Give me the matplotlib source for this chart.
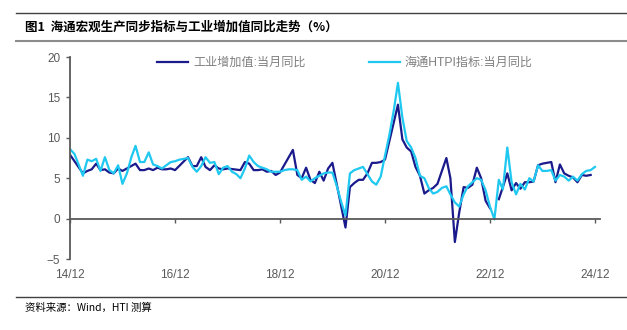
import numpy as np
import pandas as pd
import matplotlib
matplotlib.use('Agg')
import matplotlib.pyplot as plt
import matplotlib.dates as mdates
from matplotlib.lines import Line2D

plt.rcParams['font.family'] = ['Liberation Sans', 'Noto Sans CJK SC', 'DejaVu Sans']

# monthly, 2014-12 .. 2024-12
months = pd.date_range('2014-12-01', periods=121, freq='MS')

nan = np.nan
# 工业增加值:当月同比 (Jan/Feb often not published)
iva_yoy = [
    7.9,
    nan, nan, 5.6, 5.9, 6.1, 6.8, 6.0, 6.1, 5.7, 5.6, 6.2, 5.9,      # 2015
    nan, nan, 6.8, 6.0, 6.0, 6.2, 6.0, 6.3, 6.1, 6.1, 6.2, 6.0,      # 2016
    nan, nan, 7.6, 6.5, 6.5, 7.6, 6.4, 6.0, 6.6, 6.2, 6.1, 6.2,      # 2017
    nan, nan, 6.0, 7.0, 6.8, 6.0, 6.0, 6.1, 5.8, 5.9, 5.4, 5.7,      # 2018
    nan, nan, 8.5, 5.4, 5.0, 6.3, 4.8, 4.4, 5.8, 4.7, 6.2, 6.9,      # 2019
    nan, nan, -1.1, 3.9, 4.4, 4.8, 4.8, 5.6, 6.9, 6.9, 7.0, 7.3,     # 2020
    nan, nan, 14.1, 9.8, 8.8, 8.3, 6.4, 5.3, 3.1, 3.5, 3.8, 4.3,     # 2021
    nan, 7.5, 5.0, -2.9, 0.7, 3.9, 3.8, 4.2, 6.3, 5.0, 2.2, 1.3,     # 2022
    nan, 2.4, 3.9, 5.6, 3.5, 4.4, 3.7, 4.5, 4.5, 4.6, 6.6, 6.8,      # 2023
    nan, 7.0, 4.5, 6.7, 5.6, 5.3, 5.1, 4.5, 5.4, 5.3, 5.4, nan,      # 2024
]

# 海通HTPI指标:当月同比
htpi_yoy = [
    8.6,
    8.0, 6.6, 5.3, 7.3, 7.1, 7.4, 5.9, 7.6, 6.0, 5.6, 6.6, 4.3,      # 2015
    5.6, 7.6, 9.0, 7.0, 7.0, 8.2, 6.7, 6.5, 6.2, 6.6, 7.0, 7.1,      # 2016
    7.3, 7.4, 7.5, 6.4, 5.8, 6.5, 7.6, 6.9, 7.0, 5.5, 6.3, 6.5,      # 2017
    5.8, 5.5, 5.0, 6.2, 7.8, 7.0, 6.5, 6.3, 6.1, 5.8, 5.8, 5.8,      # 2018
    6.0, 6.1, 6.1, 6.0, 4.8, 5.2, 4.6, 5.0, 5.3, 5.6, 5.7, 5.7,      # 2019
    4.0, 2.0, 0.4, 5.6, 6.0, 6.2, 6.4, 5.5, 4.6, 4.2, 5.2, 7.8,      # 2020
    10.4, 13.5, 16.8, 12.5, 9.6, 8.8, 7.5, 5.3, 5.0, 3.8, 3.1, 3.3,  # 2021
    3.8, 4.0, 3.0, 2.0, 1.5, 3.0, 4.0, 4.5, 5.0, 4.8, 3.5, 1.5,      # 2022
    -0.1, 4.8, 3.6, 8.8, 4.5, 3.0, 4.3, 3.6, 5.0, 4.6, 6.6, 5.9,     # 2023
    5.9, 6.0, 4.7, 5.4, 5.2, 4.7, 5.2, 4.7, 5.5, 5.9, 6.0, 6.4,      # 2024
]

iva = pd.Series(iva_yoy, index=months)
htpi = pd.Series(htpi_yoy, index=months)

NAVY = '#1a1a8c'
CYAN = '#1ec8f0'
AXIS = '#595959'
TEXT = '#595959'

fig = plt.figure(figsize=(6.27, 3.3), dpi=100)
ax = fig.add_axes([70 / 627, 1 - 259 / 330, 530 / 627, 202 / 330])

# missing months are bridged, except the break at the start of 2023
seg1 = iva[:'2022-12-01'].dropna()
seg2 = iva['2023-02-01':].dropna()
ax.plot(seg1.index, seg1.values, color=NAVY, lw=1.6, label='工业增加值:当月同比',
        solid_joinstyle='round')
ax.plot(seg2.index, seg2.values, color=NAVY, lw=1.6, solid_joinstyle='round')
ax.plot(htpi.index, htpi.values, color=CYAN, lw=1.6, label='海通HTPI指标:当月同比',
        solid_joinstyle='round')

ax.set_ylim(-5, 20)
ax.set_yticks([-5, 0, 5, 10, 15, 20])
ax.set_xlim(pd.Timestamp('2014-12-01'), pd.Timestamp('2025-01-05'))
ax.set_xticks(pd.date_range('2014-12-01', '2024-12-01', freq='24MS'))
ax.xaxis.set_major_formatter(mdates.DateFormatter('%y/%m'))

for s in ['top', 'right']:
    ax.spines[s].set_visible(False)
ax.spines['left'].set_color(AXIS)
ax.spines['left'].set_linewidth(1.3)
ax.spines['bottom'].set_position(('data', 0))
ax.spines['bottom'].set_color(AXIS)
ax.spines['bottom'].set_linewidth(1.3)

ax.tick_params(axis='y', direction='out', length=3, width=1, color=AXIS,
               labelcolor=TEXT, labelsize=8.5, pad=4)
ax.tick_params(axis='x', direction='out', length=3, width=1, color=AXIS,
               labelcolor=TEXT, labelsize=8.5, pad=33)

leg = ax.legend(loc='center left', bbox_to_anchor=(0.164, 0.97), ncol=2,
                frameon=False, borderpad=0, borderaxespad=0, handlelength=2.6,
                handletextpad=0.4, columnspacing=5.2, fontsize=8.7)
for t in leg.get_texts():
    t.set_color('#7f7f7f')

# header / footer rules
fig.add_artist(Line2D([16 / 627, 1], [1 - 13 / 330] * 2, color='#404040', lw=1.0))
fig.add_artist(Line2D([16 / 627, 1], [1 - 41 / 330] * 2, color='#8c8c8c', lw=1.5))
fig.add_artist(Line2D([16 / 627, 1], [1 - 297 / 330] * 2, color='#404040', lw=1.0))

fig.text(25 / 627, 1 - 27 / 330, '图1  海通宏观生产同步指标与工业增加值同比走势（%）',
         family=['Noto Sans CJK SC', 'DejaVu Sans'], fontsize=9, fontweight='bold',
         color='#000000', va='center', ha='left')
fig.text(25 / 627, 1 - 308 / 330, '资料来源：Wind，HTI 测算',
         family=['Noto Sans CJK SC', 'DejaVu Sans'], fontsize=7.5,
         color='#000000', va='center', ha='left')

fig.savefig('out.png', dpi=100)
